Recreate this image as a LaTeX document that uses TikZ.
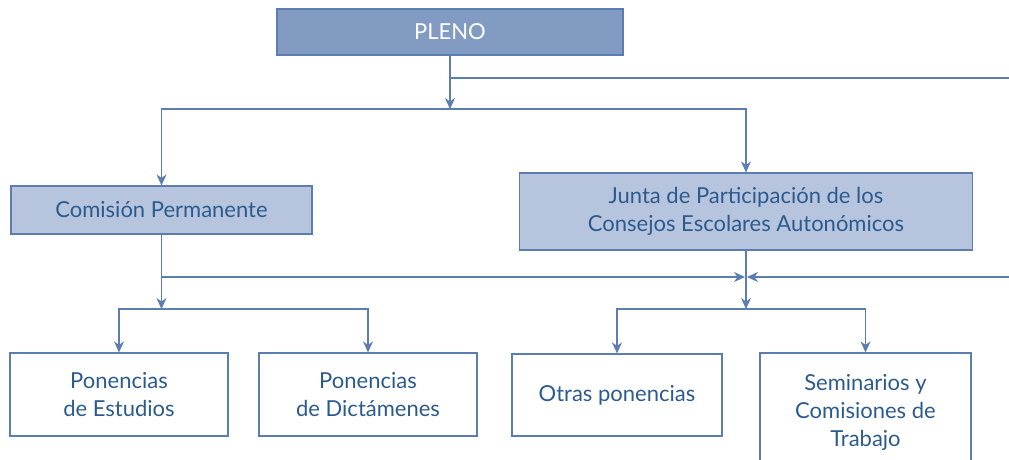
\documentclass[tikz,border=0pt]{standalone}
\usepackage{fontspec}
\setmainfont{Lato}
\usetikzlibrary{arrows.meta}
\definecolor{linea}{HTML}{5B7DB1}
\definecolor{plenofill}{HTML}{829BC2}
\definecolor{cajafill}{HTML}{B7C4DD}
\definecolor{texto}{HTML}{2B5B8E}

\begin{document}
\begin{tikzpicture}[x=1pt,y=-1pt,
  caja/.style={draw=linea, line width=1.2pt, text=texto, align=center,
    inner sep=0pt, font=\fontsize{22}{28}\selectfont},
  conector/.style={draw=linea, line width=1.2pt},
  flecha/.style={conector, -{Stealth[length=11pt,width=10pt,inset=3.5pt]}}]
  \clip (0,0) rectangle (1009,459);
  % cajas
  \node[caja, fill=plenofill, text=white, minimum width=346pt, minimum height=46pt] (pleno) at (450,32) {PLENO};
  \node[caja, fill=cajafill, minimum width=301pt, minimum height=48pt] (com) at (161.5,210) {Comisión Permanente};
  \node[caja, fill=cajafill, minimum width=453pt, minimum height=77pt] (junta) at (746,211.5) {Junta de Participación de los\\Consejos Escolares Autonómicos};
  \node[caja, minimum width=218pt, minimum height=83pt] (est) at (119,394.5) {Ponencias\\de Estudios};
  \node[caja, minimum width=218pt, minimum height=83pt] (dict) at (368,394.5) {Ponencias\\de Dictámenes};
  \node[caja, minimum width=210pt, minimum height=82pt] (otras) at (617,395) {Otras ponencias};
  \node[caja, minimum width=211pt, minimum height=119pt] (sem) at (865.5,412.5) {Seminarios y\\Comisiones de\\Trabajo};
  % conectores
  \coordinate (r1) at (450,109);
  \coordinate (e1) at (1009,78);
  \coordinate (cruce) at (746,277);
  \coordinate (e2) at (1009,277);
  \coordinate (r2) at (161.5,309);
  \coordinate (r3) at (746,309);
  \draw[flecha] (pleno.south) -- (r1);
  \draw[conector] (pleno.south |- e1) -- (e1);
  \draw[flecha] (r1) -| (com.north);
  \draw[flecha] (r1) -| (junta.north);
  \draw[flecha] (com.south) -- (r2);
  \draw[flecha, shorten >=1pt] (com.south |- cruce) -- (cruce);
  \draw[flecha, shorten >=1pt] (e2) -- (cruce);
  \draw[flecha] (r2) -| (est.north);
  \draw[flecha] (r2) -| (dict.north);
  \draw[flecha] (junta.south) -- (r3);
  \draw[flecha] (r3) -| (otras.north);
  \draw[flecha] (r3) -| (sem.north);
\end{tikzpicture}
\end{document}
